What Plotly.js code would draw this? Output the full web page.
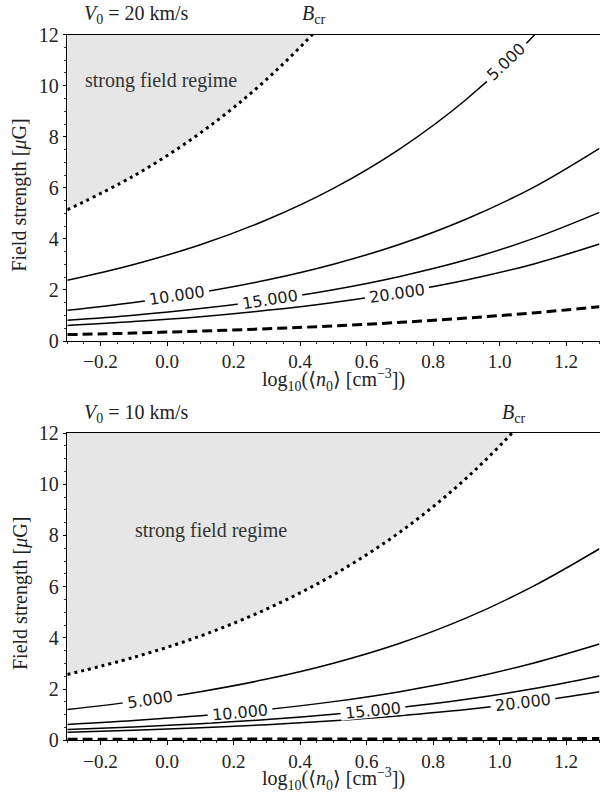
<!DOCTYPE html>
<html>
<head>
<meta charset="utf-8">
<script src="https://cdn.plot.ly/plotly-3.0.1.min.js"></script>
<style>
  html, body { margin: 0; padding: 0; background: #fff; }
  #chart { width: 600px; height: 792px; }
</style>
</head>
<body>
<div id="chart"></div>
<script>
// log10 of the mean density <n0> at which each curve is sampled
const logN = [-0.3, -0.1, 0.1, 0.3, 0.5, 0.7, 0.9, 1.1, 1.3];

// V0 = 20 km/s : critical field and field-strength contours [muG]
const bcrFast    = [5.14, 6.47, 8.15, 10.26, 12.92, 16.3, 20.5, 25.8, 32.5];
const fast5000   = [2.38, 3.00, 3.77, 4.75, 5.98, 7.53, 9.47, 11.93, 15.02];
const fast10000  = [1.20, 1.51, 1.90, 2.39, 3.01, 3.79, 4.78, 6.01, 7.55];
const fast15000  = [0.81, 1.01, 1.27, 1.60, 2.01, 2.53, 3.18, 4.01, 5.04];
const fast20000  = [0.61, 0.76, 0.95, 1.20, 1.51, 1.90, 2.39, 3.01, 3.80];
const fastDashed = [0.25, 0.31, 0.39, 0.48, 0.59, 0.73, 0.90, 1.10, 1.34];

// V0 = 10 km/s
const bcrSlow    = [2.57, 3.24, 4.07, 5.13, 6.46, 8.13, 10.24, 12.9, 16.2];
const slow5000   = [1.20, 1.51, 1.90, 2.39, 3.01, 3.79, 4.78, 6.01, 7.48];
const slow10000  = [0.62, 0.77, 0.96, 1.20, 1.51, 1.90, 2.39, 3.01, 3.76];
const slow15000  = [0.42, 0.52, 0.65, 0.81, 1.02, 1.28, 1.60, 2.01, 2.51];
const slow20000  = [0.31, 0.39, 0.49, 0.61, 0.76, 0.96, 1.20, 1.51, 1.90];
const slowDashed = [0.04, 0.04, 0.04, 0.05, 0.05, 0.05, 0.06, 0.06, 0.07];

// contour levels and where their inline labels sit (log n)
const levelText   = ['5.000', '10.000', '15.000', '20.000'];
const fastLabelX  = [1.02, 0.03, 0.31, 0.69];
const slowLabelX  = [-0.05, 0.22, 0.62, 1.07];

const panelTitles = ['<i>V</i><sub>0</sub> = 20 km/s', '<i>V</i><sub>0</sub> = 10 km/s'];
const bcrLabel    = '<i>B</i><sub>cr</sub>';
const bcrLabelX   = [0.44, 1.04];
const regimeText  = 'strong field regime';
const regimeX     = [-0.253, -0.103];
const regimeY     = [10.2, 8.2];

const angL = '<span style="font-family:DejaVu Sans">⟨</span>';
const angR = '<span style="font-family:DejaVu Sans">⟩</span>';
const xTitle = 'log<sub>10</sub>(' + angL + '<i>n</i><sub>0</sub>' + angR + ' [cm<sup>−3</sup>])';
const yTitle = 'Field strength [<i>μ</i>G]';

const xRange = [-0.3, 1.3];
const yRange = [0, 12];

const W = 600, H = 792;
const plotLeft = 67.3, plotRight = 599.5;
const panels = [
  { top: 34.7, bottom: 341.0, xa: 'x',  ya: 'y',
    bcr: bcrFast, lines: [fast5000, fast10000, fast15000, fast20000], dashed: fastDashed, labelX: fastLabelX },
  { top: 433.0, bottom: 740.3, xa: 'x2', ya: 'y2',
    bcr: bcrSlow, lines: [slow5000, slow10000, slow15000, slow20000], dashed: slowDashed, labelX: slowLabelX }
];

const serif = 'Liberation Serif, Times New Roman, serif';
const textColor = '#222';

function interp(xs, ys, x) {
  for (let i = 0; i < xs.length - 1; i++) {
    if (x >= xs[i] && x <= xs[i + 1]) {
      const t = (x - xs[i]) / (xs[i + 1] - xs[i]);
      return { y: ys[i] + t * (ys[i + 1] - ys[i]), slope: (ys[i + 1] - ys[i]) / (xs[i + 1] - xs[i]) };
    }
  }
  return { y: ys[ys.length - 1], slope: 0 };
}

const traces = [];
const annotations = [];
const layout = {
  width: W, height: H,
  margin: { l: 0, r: 0, t: 0, b: 0 },
  paper_bgcolor: '#fff', plot_bgcolor: '#fff',
  showlegend: false,
  annotations: annotations
};

panels.forEach((p, k) => {
  const xs = { xaxis: p.xa, yaxis: p.ya };
  const ceiling = logN.map(() => yRange[1]);

  // shaded strong-field region above B_cr
  traces.push(Object.assign({ x: logN, y: ceiling, mode: 'lines', line: { width: 0 }, hoverinfo: 'skip' }, xs));
  traces.push(Object.assign({
    x: logN, y: p.bcr, mode: 'lines', fill: 'tonexty', fillcolor: '#e6e6e6',
    line: { color: '#000', width: 3, dash: '3px,4px', shape: 'spline' }
  }, xs));

  // field-strength contours
  p.lines.forEach(ys => {
    traces.push(Object.assign({ x: logN, y: ys, mode: 'lines', line: { color: '#000', width: 1.5, shape: 'spline' } }, xs));
  });
  traces.push(Object.assign({
    x: logN, y: p.dashed, mode: 'lines', cliponaxis: false,
    line: { color: '#000', width: 3, dash: '10px,5px', shape: 'spline' }
  }, xs));

  const pxX = (plotRight - plotLeft) / (xRange[1] - xRange[0]);
  const pxY = (p.bottom - p.top) / (yRange[1] - yRange[0]);

  // inline contour labels, white box opens a gap in the line
  p.lines.forEach((ys, i) => {
    const lx = p.labelX[i];
    const r = interp(logN, ys, lx);
    const ang = -Math.atan(r.slope * pxY / pxX) * 180 / Math.PI;
    annotations.push({
      xref: p.xa, yref: p.ya, x: lx, y: r.y, text: levelText[i], showarrow: false,
      textangle: ang, bgcolor: '#fff', borderpad: 0,
      width: levelText[i].length * 10 + 4, height: 13,
      font: { family: 'DejaVu Sans, sans-serif', size: 16, color: '#1a1a1a' }
    });
  });

  const yTopPaper = 1 - p.top / H;
  const yBotPaper = 1 - p.bottom / H;
  const titleY = 1 - (p.top - 20) / H;

  annotations.push({
    xref: 'paper', yref: 'paper', x: 82 / W, y: titleY, xanchor: 'left', yanchor: 'middle',
    text: panelTitles[k], showarrow: false, font: { family: serif, size: 20, color: textColor }
  });
  annotations.push({
    xref: p.xa, yref: 'paper', x: bcrLabelX[k], y: titleY, xanchor: 'center', yanchor: 'middle',
    text: bcrLabel, showarrow: false, font: { family: serif, size: 20, color: textColor }
  });
  annotations.push({
    xref: p.xa, yref: p.ya, x: regimeX[k], y: regimeY[k], xanchor: 'left', yanchor: 'middle',
    text: regimeText, showarrow: false, font: { family: serif, size: 20, color: '#333' }
  });
  annotations.push({
    xref: 'paper', yref: 'paper', x: 20 / W, y: 1 - (p.top + 161) / H, xanchor: 'center', yanchor: 'middle',
    text: yTitle, textangle: -90, showarrow: false, font: { family: serif, size: 20, color: textColor }
  });
  annotations.push({
    xref: 'paper', yref: 'paper', x: (plotLeft + plotRight) / 2 / W, y: 1 - (p.bottom + 39) / H,
    xanchor: 'center', yanchor: 'middle',
    text: xTitle, showarrow: false, font: { family: serif, size: 20, color: textColor }
  });

  const xName = k === 0 ? 'xaxis' : 'xaxis2';
  const yName = k === 0 ? 'yaxis' : 'yaxis2';
  layout[xName] = {
    domain: [plotLeft / W, plotRight / W], anchor: p.ya, range: xRange,
    tick0: 0, dtick: 0.2, tickformat: '.1f',
    ticks: 'outside', ticklen: 3.5, tickwidth: 1, tickcolor: '#000',
    minor: { dtick: 0.05, ticks: 'outside', ticklen: 2, tickwidth: 0.8, tickcolor: '#000' },
    showline: true, linecolor: '#000', linewidth: 1, mirror: true,
    showgrid: false, zeroline: false, fixedrange: true,
    tickfont: { family: serif, size: 19, color: textColor }
  };
  layout[yName] = {
    domain: [yBotPaper, yTopPaper], anchor: p.xa, range: yRange,
    tick0: 0, dtick: 2,
    ticks: 'outside', ticklen: 3.5, tickwidth: 1, tickcolor: '#000',
    minor: { dtick: 0.5, ticks: 'outside', ticklen: 2, tickwidth: 0.8, tickcolor: '#000' },
    showline: true, linecolor: '#000', linewidth: 1, mirror: true,
    showgrid: false, zeroline: false, fixedrange: true,
    tickfont: { family: serif, size: 20, color: textColor }
  };
});

Plotly.newPlot('chart', traces, layout, { staticPlot: true, displayModeBar: false });
</script>
</body>
</html>
